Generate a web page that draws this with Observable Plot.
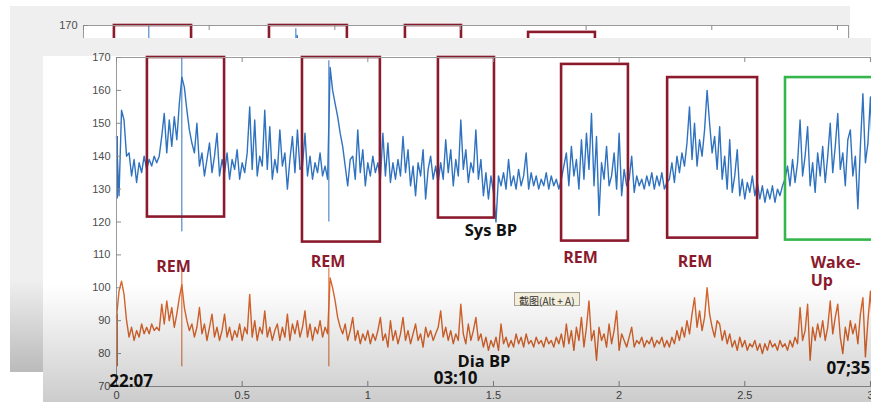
<!DOCTYPE html>
<html>
<head>
<meta charset="utf-8">
<script src="https://cdn.jsdelivr.net/npm/d3@7"></script>
<script src="https://cdn.jsdelivr.net/npm/@observablehq/plot@0.6"></script>
<style>
  html, body { margin: 0; padding: 0; background: #fff; }
  #stage { position: relative; width: 871px; height: 402px; overflow: hidden; background: #fff; }
  .abs { position: absolute; }
  .win svg { position: absolute; left: 0; top: 0; }
  #tip { position: absolute; left: 514px; top: 292px; height: 12px; padding: 0 4px; line-height: 12px;
         font: 10px "Noto Sans CJK SC", "DejaVu Sans", sans-serif; color: #333; background: #f3efdc;
         border: 1px solid #a4a292; white-space: nowrap; }
</style>
</head>
<body>
<div id="stage">
  <div id="back" class="abs win" style="left:10px;top:6px;width:840px;height:366px;background:#efefef;overflow:hidden"></div>
  <div class="abs" style="left:10px;top:280px;width:840px;height:92px;background:linear-gradient(rgba(0,0,0,0),rgba(0,0,0,0.22))"></div>
  <div id="front" class="abs win" style="left:43px;top:38px;width:840px;height:364px;background:linear-gradient(#efefef 0px,#efefef 18px,#ffffff 18px)"></div>
  <div class="abs" style="left:43px;top:285px;width:840px;height:117px;background:linear-gradient(rgba(0,0,0,0),rgba(0,0,0,0.2));pointer-events:none"></div>
  <div id="tip">截图(Alt + A)</div>
</div>
<script>
// ---- data (sampled every 0.01 on the x axis) ----
const step = 0.01;
const sysBP = [
146,128,154,151,140,141,134,139,132,138,
135,140,136,139,137,140,138,140,146,153,
141,151,143,152,145,156,164,161,154,148,
144,141,150,137,141,134,139,144,135,140,
147,134,139,135,141,133,139,136,142,133,
138,135,141,155,136,151,134,140,137,154,
136,149,133,139,135,148,137,141,130,139,
146,135,148,136,137,147,134,140,133,138,
135,141,134,137,133,167,160,156,152,147,
143,137,131,139,140,133,148,135,142,131,
138,134,140,135,138,133,147,134,144,132,
138,133,139,134,146,135,142,131,137,128,
138,134,142,127,136,140,133,137,132,138,
133,145,135,142,131,139,134,151,136,142,
132,138,135,148,133,139,128,135,127,134,
129,120,134,131,135,130,139,131,134,130,
136,131,134,141,130,135,131,134,130,133,
131,135,130,134,131,133,130,133,137,141,
131,143,134,139,130,145,133,147,136,153,
131,146,122,138,133,143,131,134,141,130,
147,128,136,131,133,140,129,134,131,133,
130,134,131,135,130,134,131,135,130,132,
133,138,132,140,135,141,137,144,155,139,
150,137,145,140,148,160,150,141,146,136,
149,133,140,130,145,129,134,142,128,133,
127,132,129,134,128,132,127,131,126,130,
127,131,126,130,128,131,133,137,131,139,
132,138,151,134,140,149,131,138,129,141,
134,143,132,140,150,135,143,153,136,141,
131,145,148,134,140,124,143,159,138,144,
158,136,141,135,140
];
const diaBP = [
91,99,102,98,90,85,88,84,87,85,
89,86,88,86,89,87,88,87,95,89,
96,90,94,88,92,97,101,94,90,87,
89,85,88,94,86,89,84,88,92,85,
88,84,87,92,85,88,84,87,85,89,
84,88,86,98,85,90,84,88,86,93,
85,88,84,87,89,84,88,85,92,84,
89,86,90,85,88,93,85,89,84,88,
86,90,85,88,86,103,100,96,91,88,
86,89,84,87,91,84,87,83,86,84,
87,83,86,84,87,91,84,86,82,90,
84,87,83,86,91,84,87,83,86,89,
84,86,82,88,85,87,84,86,88,93,
85,88,84,87,83,86,84,95,86,83,
89,84,87,91,84,86,82,85,81,84,
82,85,81,89,83,85,82,84,82,86,
83,85,82,86,83,84,82,85,83,84,
82,85,83,84,82,85,83,86,82,89,
83,87,81,88,84,91,82,88,96,84,
87,78,88,84,86,82,89,83,87,93,
81,86,84,82,85,88,82,84,83,85,
82,84,83,85,82,84,83,85,82,84,
82,85,83,87,84,88,85,90,86,92,
97,88,93,87,91,100,92,88,85,90,
89,84,87,83,86,82,84,81,85,82,
84,81,83,82,84,81,83,80,83,81,
84,82,83,81,84,82,83,81,84,82,
85,83,94,84,87,95,78,88,84,89,
85,90,84,88,96,86,91,95,85,80,
88,84,90,86,89,83,92,97,79,90,
99,86,89,84,88
];
// sharp artifacts (near-vertical spikes)
const artifactT      = [0.004, 0.26, 0.845];
const sysArtifactLo  = [127, 117, 120];
const sysArtifactHi  = [146, 170, 169];
const diaArtifactLo  = [76, 76, 76];
const diaArtifactHi  = [92, 106, 106];

// annotation boxes
const remStart = [0.123, 0.740, 1.281, 1.771, 2.193];
const remEnd   = [0.430, 1.050, 1.504, 2.037, 2.551];
const remLow   = [121.5, 113.9, 121.2, 114.2, 115.1];
const remHigh  = [170, 170, 170, 167.9, 163.9];
const wakeStart = [2.662], wakeEnd = [3.04], wakeLow = [114.5], wakeHigh = [163.9];

// text annotations
const remLabelX = [0.227, 0.842, 1.846, 2.302];
const remLabelY = [106.4, 107.8, 109.0, 107.8];
const wakeLabel = {t: 2.762, v: 105.1, text: "Wake-\nUp"};
const seriesLabels = [{t: 1.490, v: 117.3, text: "Sys BP"}, {t: 1.462, v: 77.5, text: "Dia BP"}];
const timeLabelsMid = [{t: 0.058, v: 71.6, text: "22:07"}, {t: 1.349, v: 72.5, text: "03:10"}];
const timeLabelsStart = [{t: 2.825, v: 75.5, text: "07;35"}];

const xTicks = [0, 0.5, 1, 1.5, 2, 2.5, 3];
const yTicks = [70, 80, 90, 100, 110, 120, 130, 140, 150, 160, 170];

// ---- build ----
const sysData = sysBP.map((v, i) => ({t: i * step, v}));
const diaData = diaBP.map((v, i) => ({t: i * step, v}));
const artifacts = artifactT.map((t, i) => ({t, sLo: sysArtifactLo[i], sHi: sysArtifactHi[i], dLo: diaArtifactLo[i], dHi: diaArtifactHi[i]}));
const remBoxes = remStart.map((s, i) => ({x1: s, x2: remEnd[i], y1: remLow[i], y2: remHigh[i]}));
const wakeBoxes = wakeStart.map((s, i) => ({x1: s, x2: wakeEnd[i], y1: wakeLow[i], y2: wakeHigh[i]}));
const remLabels = remLabelX.map((t, i) => ({t, v: remLabelY[i], text: "REM"}));

const BLUE = "#2f72c0", ORANGE = "#d8652c", DARKRED = "#8b1a2d", GREEN = "#34b64c";
const ANNOT_FONT = "'Open Sans', 'DejaVu Sans', sans-serif";
const W = 840, H = 364, ML = 73, MR = 2, MT = 19, MB = 16;
const TICK = 5;

function chart(isBack) {
  const marks = [
    Plot.frame({fill: "white", stroke: "none"}),
    Plot.line(sysData, {x: "t", y: "v", stroke: BLUE, strokeWidth: 1.4}),
    Plot.ruleX(artifacts, {x: "t", y1: "sLo", y2: "sHi", stroke: BLUE, strokeWidth: 1}),
    Plot.line(diaData, {x: "t", y: "v", stroke: ORANGE, strokeWidth: 1.4}),
    Plot.ruleX(artifacts, {x: "t", y1: "dLo", y2: "dHi", stroke: ORANGE, strokeWidth: 1}),
    Plot.rect(remBoxes, {x1: "x1", x2: "x2", y1: "y1", y2: "y2", fill: "none", stroke: DARKRED, strokeWidth: 2.6}),
    Plot.rect(wakeBoxes, {x1: "x1", x2: "x2", y1: "y1", y2: "y2", fill: "none", stroke: GREEN, strokeWidth: 2.6}),
    Plot.frame({stroke: "#9a9a9a", fill: "none"}),
    // inward tick marks (left, bottom, top)
    Plot.tickY(yTicks, {y: d => d, stroke: "#8a8a8a", insetRight: W - ML - MR - TICK}),
    Plot.tickX(xTicks, {x: d => d, stroke: "#8a8a8a", insetTop: H - MT - MB - TICK}),
    Plot.tickX(xTicks, {x: d => d, stroke: "#8a8a8a", insetBottom: H - MT - MB - TICK}),
    Plot.axisY({ticks: isBack ? yTicks.slice(-1) : yTicks, tickSize: 0, tickPadding: 6, label: null})
  ];
  if (!isBack) {
    marks.push(
      Plot.axisX({ticks: xTicks, tickSize: 0, tickPadding: 5, label: null, tickFormat: d => String(d)}),
      Plot.text(remLabels, {x: "t", y: "v", text: "text", fill: DARKRED, fontSize: 16, fontWeight: 700, fontFamily: ANNOT_FONT}),
      Plot.text([wakeLabel], {x: "t", y: "v", text: "text", fill: DARKRED, fontSize: 16, fontWeight: 700, fontFamily: ANNOT_FONT, textAnchor: "start", lineHeight: 1.12}),
      Plot.text(seriesLabels, {x: "t", y: "v", text: "text", fill: "#111", fontSize: 16.5, fontWeight: 700, fontFamily: ANNOT_FONT, letterSpacing: "0.6px"}),
      Plot.text(timeLabelsMid, {x: "t", y: "v", text: "text", fill: "#111", fontSize: 17, fontWeight: 700, fontFamily: ANNOT_FONT}),
      Plot.text(timeLabelsStart, {x: "t", y: "v", text: "text", fill: "#111", fontSize: 17, fontWeight: 700, fontFamily: ANNOT_FONT, textAnchor: "start"})
    );
  } else {
    marks.push(Plot.axisX({ticks: [], label: null}));
  }
  return Plot.plot({
    width: W, height: H,
    marginLeft: ML, marginRight: MR, marginTop: MT, marginBottom: MB,
    x: {domain: [0, 3.044]},
    y: {domain: [70, 170]},
    style: {background: "transparent", color: "#4d4d4d", fontFamily: "'Liberation Sans', Arial, sans-serif", fontSize: "11px"},
    marks
  });
}
document.getElementById("back").appendChild(chart(true));
document.getElementById("front").appendChild(chart(false));
</script>
</body>
</html>
